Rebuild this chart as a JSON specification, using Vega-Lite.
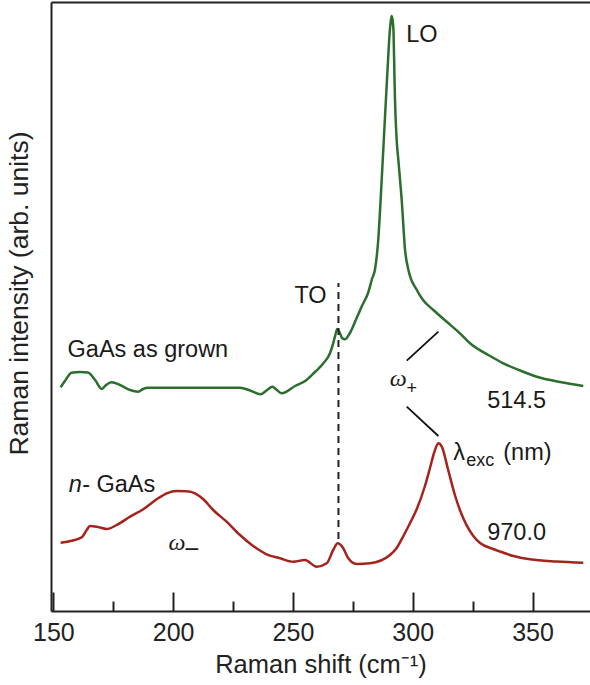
{
  "$schema": "https://vega.github.io/schema/vega-lite/v6.json",
  "width": 539,
  "height": 609,
  "autosize": {"type": "none"},
  "padding": {"left": 51, "top": 2, "right": 0, "bottom": 74},
  "background": "white",
  "config": {
    "view": {"stroke": null},
    "font": "Liberation Sans",
    "axis": {"grid": false, "domainColor": "#222", "domainWidth": 2, "tickColor": "#222", "tickWidth": 2, "labelColor": "#222", "titleColor": "#222", "titleFontWeight": "normal", "labelFont": "Liberation Sans", "titleFont": "Liberation Sans"}
  },
  "datasets": {
    "spectra": [
      {"sample": "GaAs as grown", "shift": 153.0, "intensity": 223.7},
      {"sample": "GaAs as grown", "shift": 154.8, "intensity": 230},
      {"sample": "GaAs as grown", "shift": 157.6, "intensity": 238.3},
      {"sample": "GaAs as grown", "shift": 161.1, "intensity": 239},
      {"sample": "GaAs as grown", "shift": 164.4, "intensity": 238.5},
      {"sample": "GaAs as grown", "shift": 167.4, "intensity": 231},
      {"sample": "GaAs as grown", "shift": 170.2, "intensity": 222},
      {"sample": "GaAs as grown", "shift": 172.0, "intensity": 226},
      {"sample": "GaAs as grown", "shift": 174.3, "intensity": 228.7},
      {"sample": "GaAs as grown", "shift": 177.8, "intensity": 226},
      {"sample": "GaAs as grown", "shift": 182.0, "intensity": 221},
      {"sample": "GaAs as grown", "shift": 185.4, "intensity": 219.3},
      {"sample": "GaAs as grown", "shift": 187.4, "intensity": 222},
      {"sample": "GaAs as grown", "shift": 189.5, "intensity": 223.3},
      {"sample": "GaAs as grown", "shift": 211.2, "intensity": 223.3},
      {"sample": "GaAs as grown", "shift": 227.9, "intensity": 223.3},
      {"sample": "GaAs as grown", "shift": 232.1, "intensity": 220.5},
      {"sample": "GaAs as grown", "shift": 236.5, "intensity": 216.7},
      {"sample": "GaAs as grown", "shift": 239.2, "intensity": 221},
      {"sample": "GaAs as grown", "shift": 241.4, "intensity": 224.3},
      {"sample": "GaAs as grown", "shift": 243.3, "intensity": 221},
      {"sample": "GaAs as grown", "shift": 245.3, "intensity": 217.7},
      {"sample": "GaAs as grown", "shift": 250.9, "intensity": 225},
      {"sample": "GaAs as grown", "shift": 255.7, "intensity": 231},
      {"sample": "GaAs as grown", "shift": 259.2, "intensity": 239},
      {"sample": "GaAs as grown", "shift": 262.7, "intensity": 247.7},
      {"sample": "GaAs as grown", "shift": 265.5, "intensity": 258},
      {"sample": "GaAs as grown", "shift": 266.8, "intensity": 267.7},
      {"sample": "GaAs as grown", "shift": 267.8, "intensity": 277},
      {"sample": "GaAs as grown", "shift": 268.5, "intensity": 282},
      {"sample": "GaAs as grown", "shift": 269.6, "intensity": 278},
      {"sample": "GaAs as grown", "shift": 270.5, "intensity": 273},
      {"sample": "GaAs as grown", "shift": 271.7, "intensity": 271.7},
      {"sample": "GaAs as grown", "shift": 273.8, "intensity": 278},
      {"sample": "GaAs as grown", "shift": 276.6, "intensity": 293},
      {"sample": "GaAs as grown", "shift": 278.8, "intensity": 305},
      {"sample": "GaAs as grown", "shift": 281.5, "intensity": 319},
      {"sample": "GaAs as grown", "shift": 283.0, "intensity": 332},
      {"sample": "GaAs as grown", "shift": 284.2, "intensity": 341},
      {"sample": "GaAs as grown", "shift": 285.6, "intensity": 371},
      {"sample": "GaAs as grown", "shift": 286.6, "intensity": 411},
      {"sample": "GaAs as grown", "shift": 287.7, "intensity": 461},
      {"sample": "GaAs as grown", "shift": 288.8, "intensity": 511},
      {"sample": "GaAs as grown", "shift": 289.7, "intensity": 551},
      {"sample": "GaAs as grown", "shift": 290.3, "intensity": 576},
      {"sample": "GaAs as grown", "shift": 290.8, "intensity": 589},
      {"sample": "GaAs as grown", "shift": 291.2, "intensity": 595},
      {"sample": "GaAs as grown", "shift": 291.7, "intensity": 589},
      {"sample": "GaAs as grown", "shift": 292.0, "intensity": 578},
      {"sample": "GaAs as grown", "shift": 292.4, "intensity": 531},
      {"sample": "GaAs as grown", "shift": 292.6, "intensity": 511},
      {"sample": "GaAs as grown", "shift": 293.3, "intensity": 471},
      {"sample": "GaAs as grown", "shift": 294.0, "intensity": 451},
      {"sample": "GaAs as grown", "shift": 295.4, "intensity": 411},
      {"sample": "GaAs as grown", "shift": 296.8, "intensity": 361},
      {"sample": "GaAs as grown", "shift": 298.2, "intensity": 341},
      {"sample": "GaAs as grown", "shift": 301.7, "intensity": 321},
      {"sample": "GaAs as grown", "shift": 304.3, "intensity": 311},
      {"sample": "GaAs as grown", "shift": 308.6, "intensity": 301},
      {"sample": "GaAs as grown", "shift": 314.3, "intensity": 289},
      {"sample": "GaAs as grown", "shift": 319.7, "intensity": 277.7},
      {"sample": "GaAs as grown", "shift": 323.9, "intensity": 267.7},
      {"sample": "GaAs as grown", "shift": 332.3, "intensity": 255},
      {"sample": "GaAs as grown", "shift": 337.8, "intensity": 247.7},
      {"sample": "GaAs as grown", "shift": 344.8, "intensity": 240.5},
      {"sample": "GaAs as grown", "shift": 351.8, "intensity": 234.3},
      {"sample": "GaAs as grown", "shift": 361.5, "intensity": 229},
      {"sample": "GaAs as grown", "shift": 371.2, "intensity": 225},
      {"sample": "n-GaAs", "shift": 153.0, "intensity": 68.3},
      {"sample": "n-GaAs", "shift": 161.8, "intensity": 73.7},
      {"sample": "n-GaAs", "shift": 163.9, "intensity": 81},
      {"sample": "n-GaAs", "shift": 165.3, "intensity": 85},
      {"sample": "n-GaAs", "shift": 168.1, "intensity": 84.3},
      {"sample": "n-GaAs", "shift": 172.3, "intensity": 82},
      {"sample": "n-GaAs", "shift": 176.4, "intensity": 86},
      {"sample": "n-GaAs", "shift": 182.0, "intensity": 94.3},
      {"sample": "n-GaAs", "shift": 187.5, "intensity": 101.7},
      {"sample": "n-GaAs", "shift": 193.1, "intensity": 111.7},
      {"sample": "n-GaAs", "shift": 197.3, "intensity": 117.7},
      {"sample": "n-GaAs", "shift": 201.5, "intensity": 120},
      {"sample": "n-GaAs", "shift": 205.6, "intensity": 119.7},
      {"sample": "n-GaAs", "shift": 209.1, "intensity": 117.7},
      {"sample": "n-GaAs", "shift": 212.6, "intensity": 111.7},
      {"sample": "n-GaAs", "shift": 216.7, "intensity": 101},
      {"sample": "n-GaAs", "shift": 222.3, "intensity": 89.3},
      {"sample": "n-GaAs", "shift": 227.9, "intensity": 76},
      {"sample": "n-GaAs", "shift": 233.4, "intensity": 65},
      {"sample": "n-GaAs", "shift": 239.0, "intensity": 56.7},
      {"sample": "n-GaAs", "shift": 244.6, "intensity": 52.7},
      {"sample": "n-GaAs", "shift": 250.1, "intensity": 49.3},
      {"sample": "n-GaAs", "shift": 255.0, "intensity": 51},
      {"sample": "n-GaAs", "shift": 259.9, "intensity": 44.3},
      {"sample": "n-GaAs", "shift": 264.1, "intensity": 47.7},
      {"sample": "n-GaAs", "shift": 266.8, "intensity": 61},
      {"sample": "n-GaAs", "shift": 268.7, "intensity": 67.7},
      {"sample": "n-GaAs", "shift": 271.0, "intensity": 62.7},
      {"sample": "n-GaAs", "shift": 273.1, "intensity": 52.7},
      {"sample": "n-GaAs", "shift": 276.6, "intensity": 47},
      {"sample": "n-GaAs", "shift": 282.2, "intensity": 47.7},
      {"sample": "n-GaAs", "shift": 290.5, "intensity": 56},
      {"sample": "n-GaAs", "shift": 293.3, "intensity": 63},
      {"sample": "n-GaAs", "shift": 296.1, "intensity": 75},
      {"sample": "n-GaAs", "shift": 298.9, "intensity": 88},
      {"sample": "n-GaAs", "shift": 301.7, "intensity": 102},
      {"sample": "n-GaAs", "shift": 305.1, "intensity": 125},
      {"sample": "n-GaAs", "shift": 307.2, "intensity": 143},
      {"sample": "n-GaAs", "shift": 308.9, "intensity": 158},
      {"sample": "n-GaAs", "shift": 310.7, "intensity": 167.7},
      {"sample": "n-GaAs", "shift": 312.2, "intensity": 164},
      {"sample": "n-GaAs", "shift": 314.8, "intensity": 141},
      {"sample": "n-GaAs", "shift": 317.6, "intensity": 116},
      {"sample": "n-GaAs", "shift": 319.7, "intensity": 101},
      {"sample": "n-GaAs", "shift": 325.3, "intensity": 75},
      {"sample": "n-GaAs", "shift": 328.1, "intensity": 68},
      {"sample": "n-GaAs", "shift": 333.6, "intensity": 62},
      {"sample": "n-GaAs", "shift": 336.4, "intensity": 59.5},
      {"sample": "n-GaAs", "shift": 342.0, "intensity": 55},
      {"sample": "n-GaAs", "shift": 349.0, "intensity": 51.7},
      {"sample": "n-GaAs", "shift": 360.0, "intensity": 49.5},
      {"sample": "n-GaAs", "shift": 371.2, "intensity": 48.3}
    ],
    "links": [
      {"style": "dashed", "shift": 269.0, "intensity": 72, "shift2": 269.0, "intensity2": 328},
      {"style": "solid", "shift": 310.7, "intensity": 279.3, "shift2": 297.5, "intensity2": 250.3},
      {"style": "solid", "shift": 297.5, "intensity": 204.3, "shift2": 310.7, "intensity2": 175}
    ],
    "notes": [
      {"role": "label", "text": "LO", "shift": 297.3, "intensity": 569.3},
      {"role": "label", "text": "TO", "shift": 250.6, "intensity": 307.7},
      {"role": "label", "text": "GaAs as grown", "shift": 155.9, "intensity": 254},
      {"role": "label", "text": "514.5", "shift": 331.1, "intensity": 202.7},
      {"role": "label", "text": "970.0", "shift": 331.1, "intensity": 71},
      {"role": "label", "text": "- GaAs", "shift": 162.0, "intensity": 119.3},
      {"role": "label", "text": "λ", "shift": 316.9, "intensity": 151},
      {"role": "label", "text": "(nm)", "shift": 337.8, "intensity": 151},
      {"role": "italic", "text": "n", "shift": 156.4, "intensity": 119.3},
      {"role": "greek", "text": "ω", "shift": 290.4, "intensity": 225},
      {"role": "greek", "text": "ω", "shift": 198.0, "intensity": 61},
      {"role": "sub", "text": "+", "shift": 297.4, "intensity": 217},
      {"role": "sub", "text": "exc", "shift": 322.3, "intensity": 145},
      {"role": "dash", "text": "−", "shift": 204.6, "intensity": 53.5}
    ]
  },
  "resolve": {"axis": {"x": "independent", "y": "independent"}},
  "layer": [
    {
      "data": {"name": "spectra"},
      "mark": {"type": "line", "interpolate": "monotone", "strokeWidth": 2.5},
      "encoding": {
        "x": {
          "field": "shift", "type": "quantitative",
          "scale": {"domain": [149, 374], "nice": false, "zero": false},
          "axis": {"orient": "bottom", "values": [150, 200, 250, 300, 350], "tickSize": -19, "labelFontSize": 25, "labelPadding": 28, "title": "Raman shift  (cm⁻¹)", "titleFontSize": 25.5, "titlePadding": 7}
        },
        "y": {
          "field": "intensity", "type": "quantitative",
          "scale": {"domain": [0, 609], "nice": false},
          "axis": {"orient": "left", "ticks": false, "labels": false, "title": "Raman intensity  (arb. units)", "titleFontSize": 26.5, "titlePadding": 18, "titleY": 291}
        },
        "color": {
          "field": "sample", "type": "nominal",
          "scale": {"domain": ["GaAs as grown", "n-GaAs"], "range": ["#2c6e2d", "#a5231d"]},
          "legend": null
        }
      }
    },
    {
      "data": {"name": "links"},
      "transform": [{"filter": "datum.style === 'dashed'"}],
      "mark": {"type": "rule", "strokeDash": [7, 5], "strokeWidth": 2, "color": "#222"},
      "encoding": {
        "x": {
          "field": "shift", "type": "quantitative",
          "axis": {"orient": "bottom", "values": [175, 225, 275, 325], "tickSize": -10, "labels": false, "domain": false, "title": null}
        },
        "y": {"field": "intensity", "type": "quantitative", "axis": null},
        "y2": {"field": "intensity2"}
      }
    },
    {
      "data": {"name": "links"},
      "transform": [{"filter": "datum.style === 'solid'"}],
      "mark": {"type": "rule", "strokeWidth": 1.8, "color": "#111"},
      "encoding": {
        "x": {
          "field": "shift", "type": "quantitative",
          "axis": {"orient": "top", "ticks": false, "labels": false, "title": null}
        },
        "x2": {"field": "shift2"},
        "y": {"field": "intensity", "type": "quantitative", "axis": null},
        "y2": {"field": "intensity2"}
      }
    },
    {
      "data": {"name": "notes"},
      "transform": [{"filter": "datum.role === 'label'"}],
      "mark": {"type": "text", "align": "left", "baseline": "alphabetic", "fontSize": 23.5, "font": "Liberation Sans", "color": "#1a1a1a"},
      "encoding": {
        "x": {"field": "shift", "type": "quantitative", "axis": null},
        "y": {"field": "intensity", "type": "quantitative", "axis": null},
        "text": {"field": "text"}
      }
    },
    {
      "data": {"name": "notes"},
      "transform": [{"filter": "datum.role === 'italic'"}],
      "mark": {"type": "text", "align": "left", "baseline": "alphabetic", "fontSize": 23.5, "fontStyle": "italic", "font": "Liberation Sans", "color": "#1a1a1a"},
      "encoding": {
        "x": {"field": "shift", "type": "quantitative", "axis": null},
        "y": {"field": "intensity", "type": "quantitative", "axis": null},
        "text": {"field": "text"}
      }
    },
    {
      "data": {"name": "notes"},
      "transform": [{"filter": "datum.role === 'greek'"}],
      "mark": {"type": "text", "align": "left", "baseline": "alphabetic", "fontSize": 24, "fontStyle": "italic", "font": "Liberation Serif", "color": "#1a1a1a"},
      "encoding": {
        "x": {"field": "shift", "type": "quantitative", "axis": null},
        "y": {"field": "intensity", "type": "quantitative", "axis": null},
        "text": {"field": "text"}
      }
    },
    {
      "data": {"name": "notes"},
      "transform": [{"filter": "datum.role === 'sub'"}],
      "mark": {"type": "text", "align": "left", "baseline": "alphabetic", "fontSize": 18, "font": "Liberation Sans", "color": "#1a1a1a"},
      "encoding": {
        "x": {"field": "shift", "type": "quantitative", "axis": null},
        "y": {"field": "intensity", "type": "quantitative", "axis": null},
        "text": {"field": "text"}
      }
    },
    {
      "data": {"name": "notes"},
      "transform": [{"filter": "datum.role === 'dash'"}],
      "mark": {"type": "text", "align": "left", "baseline": "alphabetic", "fontSize": 26, "font": "Liberation Sans", "color": "#1a1a1a"},
      "encoding": {
        "x": {"field": "shift", "type": "quantitative", "axis": null},
        "y": {"field": "intensity", "type": "quantitative", "axis": null},
        "text": {"field": "text"}
      }
    }
  ]
}
